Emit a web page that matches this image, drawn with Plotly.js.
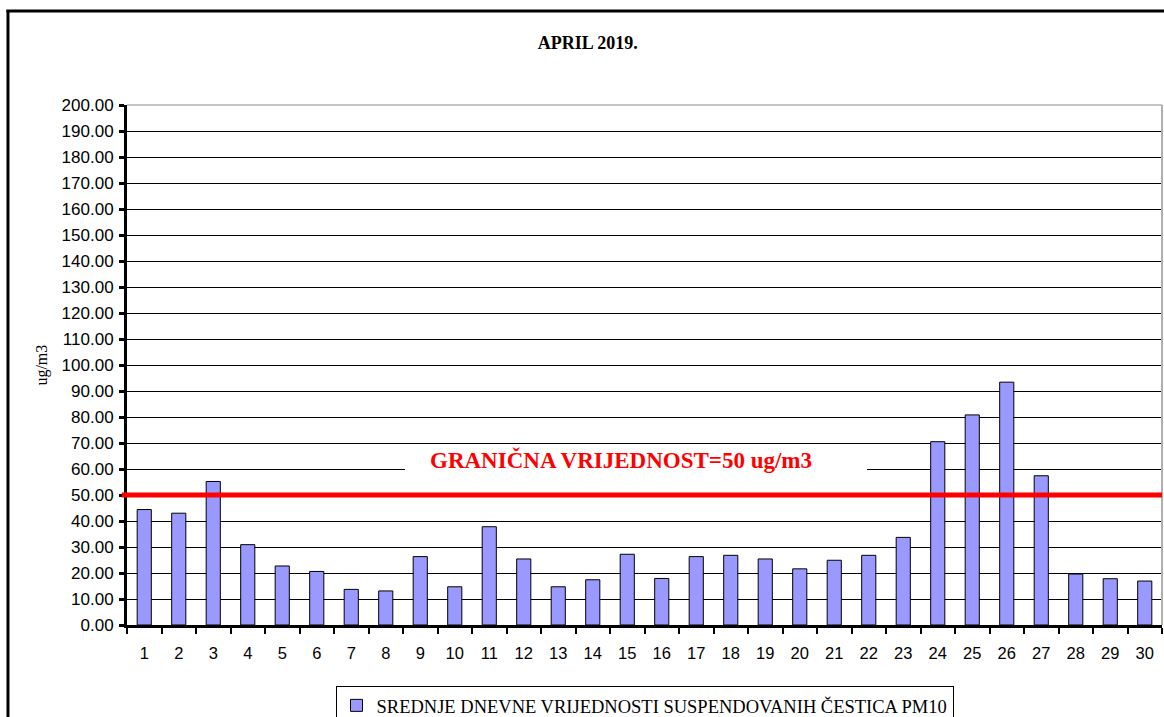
<!DOCTYPE html>
<html>
<head>
<meta charset="utf-8">
<script src="https://cdn.plot.ly/plotly-3.0.1.min.js"></script>
<style>
html,body{margin:0;padding:0;background:#fff;}
#chart{width:1164px;height:717px;}
</style>
</head>
<body>
<div id="chart"></div>
<script>
const days = ["1","2","3","4","5","6","7","8","9","10","11","12","13","14","15","16","17","18","19","20","21","22","23","24","25","26","27","28","29","30"];
const pm10 = [44.4,43.0,55.2,30.9,22.7,20.6,13.7,13.1,26.3,14.7,37.8,25.4,14.7,17.4,27.2,17.9,26.3,26.8,25.4,21.6,24.9,26.8,33.7,70.5,80.8,93.4,57.4,19.6,17.8,16.9];
const limitValue = 50;
const seriesName = "SREDNJE DNEVNE VRIJEDNOSTI SUSPENDOVANIH ČESTICA PM10";
const limitLabel = "GRANIČNA VRIJEDNOST=50 ug/m3";
const chartTitle = "APRIL 2019.";
const yTitle = "ug/m3";

const serif = "Liberation Serif";
const sans = "Liberation Sans";

const trace = {
  type: "bar",
  x: days,
  y: pm10,
  name: seriesName,
  marker: {color: "#9999FF", line: {color: "#000", width: 1}},
  showlegend: true
};

const layout = {
  width: 1164, height: 717,
  margin: {l: 127, r: 2, t: 105, b: 92, autoexpand: false},
  paper_bgcolor: "#fff", plot_bgcolor: "#fff",
  bargap: 0.59,
  title: {text: "<b>" + chartTitle + "</b>", font: {family: serif, size: 18, color: "#000"}, x: 0.505, xref: "container", y: 0.94, yanchor: "middle"},
  xaxis: {
    type: "category",
    tickson: "boundaries",
    ticks: "outside", ticklen: 6, tickwidth: 2, tickcolor: "#000",
    showline: true, linecolor: "#000", linewidth: 3,
    showgrid: false, zeroline: false,
    tickfont: {family: sans, size: 16.5, color: "#000"},
    ticklabelstandoff: 11,
    fixedrange: true
  },
  yaxis: {
    range: [0, 200], dtick: 10, tick0: 0, tickformat: ".2f",
    ticks: "outside", ticklen: 5, tickwidth: 3, tickcolor: "#000",
    showline: true, linecolor: "#000", linewidth: 3,
    showgrid: true, gridcolor: "#000", gridwidth: 1,
    zeroline: false,
    tickfont: {family: sans, size: 17, color: "#000"},
    ticklabelstandoff: 2,
    fixedrange: true
  },
  legend: {
    orientation: "h", x: 0.5, xanchor: "center", y: -0.117, yanchor: "top",
    bordercolor: "#000", borderwidth: 1, bgcolor: "#fff",
    font: {family: serif, size: 18.5, color: "#000"},
    itemwidth: 30
  },
  shapes: [
    {type: "line", xref: "paper", yref: "paper", x0: 1, x1: 1, y0: 0, y1: 1, line: {color: "#b0b0b0", width: 2}, layer: "above"},
    {type: "line", xref: "paper", yref: "paper", x0: 0, x1: 1, y0: 1, y1: 1, line: {color: "#b0b0b0", width: 1.5}, layer: "above"},
    {type: "rect", xref: "paper", yref: "y", x0: 0.2686, x1: 0.715, y0: 58.5, y1: 61.5, fillcolor: "#fff", line: {width: 0}, layer: "above"},
    {type: "line", xref: "paper", yref: "y", x0: -0.005, x1: 1, y0: limitValue, y1: limitValue, line: {color: "#ff0000", width: 5}, layer: "above"},
    {type: "line", xref: "paper", yref: "paper", x0: -0.115, x1: -0.115, y0: -0.2, y1: 1.1825, line: {color: "#000", width: 3}, layer: "above"},
    {type: "line", xref: "paper", yref: "paper", x0: -0.1165, x1: 1.1, y0: 1.1808, y1: 1.1808, line: {color: "#000", width: 3}, layer: "above"}
  ],
  annotations: [
    {xref: "paper", yref: "y", x: (621 - 127) / 1035, y: 63.6, text: "<b>" + limitLabel + "</b>", showarrow: false, font: {family: serif, size: 23, color: "#ff0000"}},
    {xref: "paper", yref: "paper", x: -0.0825, y: 0.5, xanchor: "center", text: yTitle, textangle: -90, showarrow: false, font: {family: serif, size: 16, color: "#000"}}
  ]
};

Plotly.newPlot("chart", [trace], layout, {displayModeBar: false, staticPlot: true});
</script>
</body>
</html>
